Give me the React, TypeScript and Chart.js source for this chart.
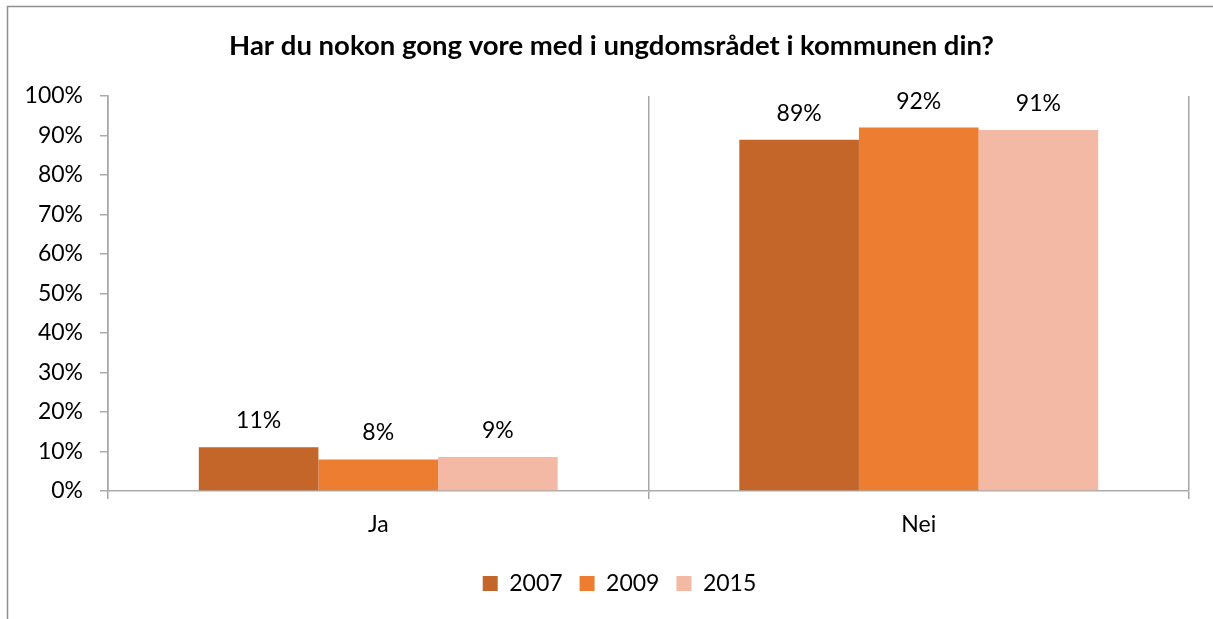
import React, { useEffect, useRef } from "react";
import { Chart, registerables } from "chart.js";

Chart.register(...registerables);

const categories = ["Ja", "Nei"];
const seriesNames = ["2007", "2009", "2015"];
const values2007 = [11.1, 88.9];
const values2009 = [8.0, 92.0];
const values2015 = [8.6, 91.4];
const yTicks = [0, 10, 20, 30, 40, 50, 60, 70, 80, 90, 100];
const colors = ["#C4662A", "#ED7D31", "#F4B9A5"];

const FONT = "Lato, 'Open Sans', sans-serif";

export default function App() {
  const ref = useRef<HTMLCanvasElement | null>(null);
  useEffect(() => {
    const canvas = ref.current;
    if (!canvas) return;
    const borderPlugin = {
      id: "outerBorder",
      beforeDraw(chart: any) {
        const ctx = chart.ctx;
        ctx.save();
        ctx.fillStyle = "#ffffff";
        ctx.fillRect(0, 0, chart.width, chart.height);
        ctx.strokeStyle = "#8e8e8e";
        ctx.lineWidth = 1.5;
        ctx.beginPath();
        ctx.moveTo(7.5, chart.height);
        ctx.lineTo(7.5, 6.5);
        ctx.lineTo(chart.width, 6.5);
        ctx.stroke();
        ctx.restore();
      },
    };
    const shiftPlugin = {
      id: "blockShift",
      afterLayout(chart: any) {
        const lg = chart.legend;
        if (lg) {
          lg.left += 25;
          lg.right += 25;
        }
        const tb = chart.titleBlock;
        if (tb) {
          tb.left += 17;
          tb.right += 17;
        }
      },
    };
    const labelPlugin = {
      id: "barLabels",
      afterDatasetsDraw(chart: any) {
        const ctx = chart.ctx;
        ctx.save();
        ctx.font = `23px ${FONT}`;
        ctx.fillStyle = "#000000";
        ctx.textAlign = "center";
        ctx.textBaseline = "alphabetic";
        chart.data.datasets.forEach((ds: any, i: number) => {
          const meta = chart.getDatasetMeta(i);
          meta.data.forEach((bar: any, j: number) => {
            const v = ds.data[j];
            ctx.fillText(Math.round(v) + "%", bar.x, bar.y - 19);
          });
        });
        ctx.restore();
      },
    };
    const datasets = [values2007, values2009, values2015].map((d, i) => ({
      label: seriesNames[i],
      data: d,
      backgroundColor: colors[i],
      borderWidth: 0,
      categoryPercentage: 0.664,
      barPercentage: 1.0,
    }));
    const chart = new Chart(canvas, {
      type: "bar",
      data: { labels: categories, datasets },
      plugins: [borderPlugin, shiftPlugin, labelPlugin],
      options: {
        responsive: false,
        animation: false,
        devicePixelRatio: 1,
        layout: { padding: { left: 0, right: 24, top: 0, bottom: 14 } },
        plugins: {
          tooltip: { enabled: false },
          title: {
            display: true,
            text: "Har du nokon gong vore med i ungdomsrådet i kommunen din?",
            color: "#000000",
            font: { family: FONT, size: 27.5, weight: "bold" },
            padding: { top: 30, bottom: 33 },
          },
          legend: {
            position: "bottom",
            labels: {
              color: "#000000",
              font: { family: FONT, size: 23 },
              boxWidth: 15,
              boxHeight: 15,
              padding: 17,
            },
          },
        },
        scales: {
          x: {
            grid: {
              display: true,
              offset: true,
              drawOnChartArea: true,
              drawTicks: true,
              tickLength: 8,
              color: "#a6a6a6",
              lineWidth: 1.5,
            },
            border: { display: true, color: "#ababab", width: 1.5 },
            ticks: {
              color: "#000000",
              font: { family: FONT, size: 23 },
              padding: 12,
            },
            afterFit(scale: any) {
              scale.height = 64;
            },
          },
          y: {
            min: 0,
            max: 100,
            afterBuildTicks(scale: any) {
              scale.ticks = yTicks.map((v) => ({ value: v }));
            },
            grid: {
              display: true,
              drawOnChartArea: false,
              drawTicks: true,
              tickLength: 8,
              color: "#ababab",
              lineWidth: 1.5,
            },
            border: { display: true, color: "#a6a6a6", width: 1.5 },
            ticks: {
              color: "#000000",
              font: { family: FONT, size: 23 },
              padding: 17,
              callback: (v: any) => v + "%",
            },
            afterFit(scale: any) {
              scale.width = 108;
            },
          },
        },
      },
    });
    return () => chart.destroy();
  }, []);
  return (
    <div style={{ position: "absolute", left: 0, top: 0, width: 1213, height: 619 }}>
      <canvas ref={ref} width={1213} height={619} style={{ display: "block", width: 1213, height: 619 }} />
    </div>
  );
}
